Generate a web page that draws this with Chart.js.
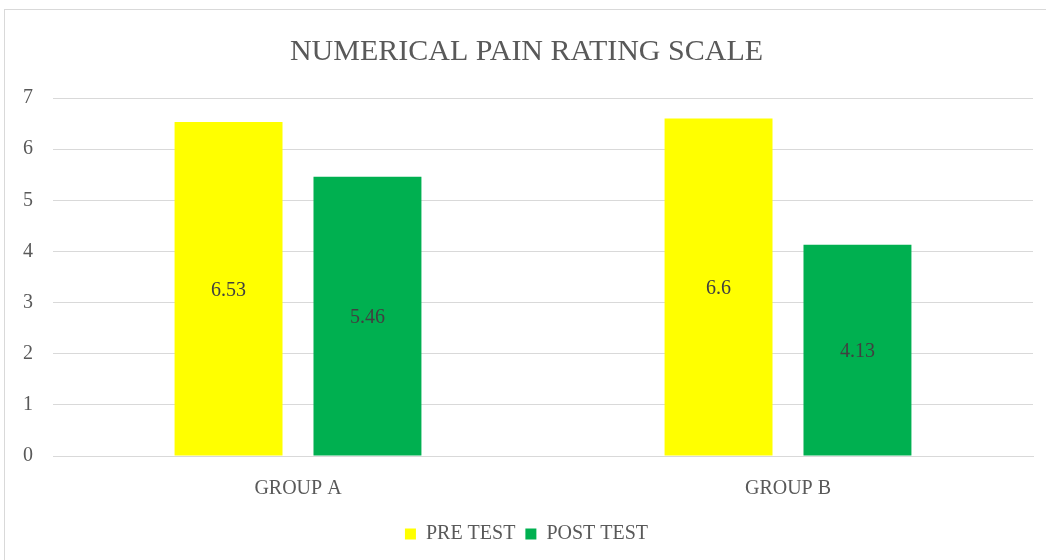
<!DOCTYPE html>
<html>
<head>
<meta charset="utf-8">
<script src="https://cdn.jsdelivr.net/npm/chart.js@4"></script>
<style>
  html, body { margin: 0; padding: 0; background: #fff; overflow: hidden; }
  #frame { position: absolute; left: 4px; top: 9px; width: 1080px; height: 600px; border: 1px solid #d9d9d9; }
  #chart { position: absolute; left: 0; top: 0; }
</style>
</head>
<body>
<div id="frame">
  <canvas id="chart" width="1041" height="550"></canvas>
</div>
<script>
// chart data
const groups = ['GROUP A', 'GROUP B'];
const preTest = [6.53, 6.6];
const postTest = [5.46, 4.13];
const yTicks = [0, 1, 2, 3, 4, 5, 6, 7];

const FONT = "'Liberation Serif', 'Times New Roman', serif";
const TEXT = '#595959';

// value labels drawn in the middle of each bar
const barValues = {
  id: 'barValues',
  afterDatasetsDraw(chart) {
    const ctx = chart.ctx;
    ctx.save();
    ctx.font = `20px ${FONT}`;
    ctx.fillStyle = '#404040';
    ctx.textAlign = 'center';
    ctx.textBaseline = 'middle';
    chart.data.datasets.forEach((ds, i) => {
      chart.getDatasetMeta(i).data.forEach((bar, j) => {
        const { x, y, base } = bar.getProps(['x', 'y', 'base'], true);
        ctx.fillText(String(ds.data[j]), x, (y + base) / 2 + 2);
      });
    });
    ctx.restore();
  }
};

new Chart(document.getElementById('chart'), {
  type: 'bar',
  data: {
    labels: groups,
    datasets: [
      { label: 'PRE TEST', data: preTest, backgroundColor: '#ffff00' },
      { label: 'POST TEST', data: postTest, backgroundColor: '#00b050' }
    ]
  },
  options: {
    responsive: false,
    animation: false,
    categoryPercentage: 0.567,
    barPercentage: 0.777,
    layout: { padding: { left: 15, right: 13, top: 0, bottom: 6 } },
    plugins: {
      title: {
        display: true,
        text: 'NUMERICAL PAIN RATING SCALE',
        color: TEXT,
        font: { family: FONT, size: 30, weight: 'normal' },
        padding: { top: 24, bottom: 28 }
      },
      legend: {
        position: 'bottom',
        labels: {
          color: TEXT,
          font: { family: FONT, size: 20 },
          boxWidth: 11,
          boxHeight: 11,
          padding: 10
        }
      },
      tooltip: { enabled: false }
    },
    scales: {
      x: {
        grid: { display: false, drawTicks: false },
        border: { display: true, color: '#d9d9d9' },
        ticks: { color: TEXT, font: { family: FONT, size: 20 }, padding: 21 },
        afterFit: (s) => { s.height = 58; }
      },
      y: {
        min: 0,
        max: yTicks[yTicks.length - 1],
        afterBuildTicks: (s) => { s.ticks = yTicks.map((v) => ({ value: v })); },
        grid: { color: '#d9d9d9', drawTicks: false },
        border: { display: false },
        ticks: { color: TEXT, font: { family: FONT, size: 20 }, padding: 20 },
        afterFit: (s) => { s.width = 33; }
      }
    }
  },
  plugins: [barValues]
});
</script>
</body>
</html>
